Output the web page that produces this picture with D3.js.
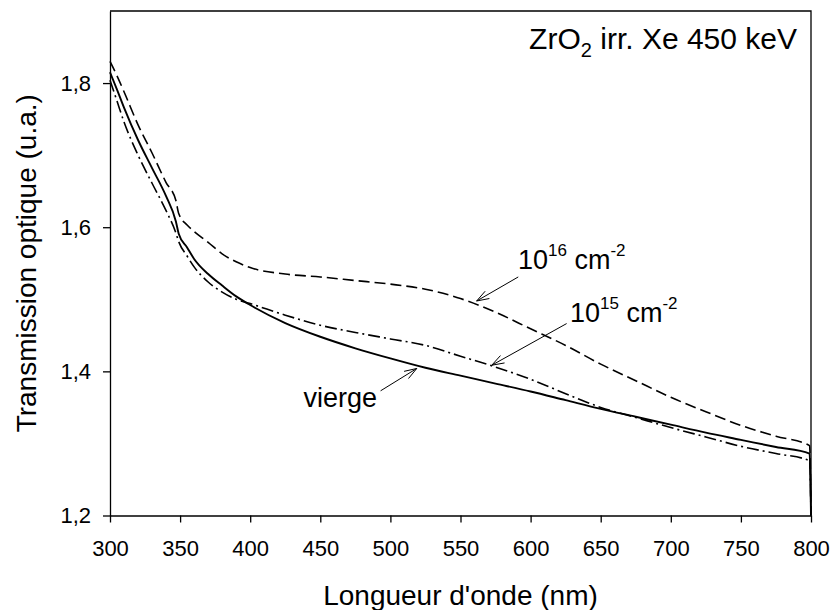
<!DOCTYPE html>
<html>
<head>
<meta charset="utf-8">
<script src="https://cdn.jsdelivr.net/npm/d3@7"></script>
<style>
  html, body { margin: 0; padding: 0; background: #fff; }
  svg { display: block; font-family: "Liberation Sans", Arial, sans-serif; }
</style>
</head>
<body>
<svg id="chart" width="832" height="610"></svg>
<script>
// ---- Data ----
const wavelengths = [300, 305, 310, 320, 330, 340, 347, 349, 355, 360, 370, 380, 390, 400,
  425, 450, 475, 500, 525, 550, 575, 600, 625, 650, 675, 700, 725, 750, 775, 799, 800];

const vierge = [1.815, 1.791, 1.766, 1.721, 1.682, 1.643, 1.608, 1.591, 1.572, 1.556, 1.535, 1.519, 1.504, 1.492,
  1.467, 1.448, 1.432, 1.418, 1.405, 1.394, 1.383, 1.372, 1.360, 1.348, 1.337, 1.326, 1.315, 1.305, 1.295, 1.286, 1.2];

const dose1e15 = [1.804, 1.775, 1.746, 1.700, 1.661, 1.623, 1.592, 1.580, 1.560, 1.545, 1.524, 1.510, 1.500, 1.494,
  1.478, 1.464, 1.454, 1.445, 1.436, 1.421, 1.406, 1.389, 1.369, 1.350, 1.336, 1.322, 1.309, 1.296, 1.286, 1.276, 1.2];

const dose1e16 = [1.830, 1.810, 1.788, 1.742, 1.703, 1.662, 1.637, 1.619, 1.603, 1.594, 1.579, 1.563, 1.552, 1.544,
  1.535, 1.531, 1.526, 1.521, 1.514, 1.501, 1.482, 1.459, 1.436, 1.410, 1.387, 1.364, 1.344, 1.325, 1.310, 1.297, 1.2];

const xTicks = [300, 350, 400, 450, 500, 550, 600, 650, 700, 750, 800];
const yTicks = [1.2, 1.4, 1.6, 1.8];
const yTickLabels = ["1,2", "1,4", "1,6", "1,8"];

const xDomain = [300, 800];
const yDomain = [1.2, 1.9];

const xTitle = "Longueur d'onde (nm)";
const yTitle = "Transmission optique (u.a.)";

// annotations: label pieces, text anchor point, arrow start, arrow tip (data units)
const annotations = [
  { base: "vierge", sup: null, unit: null, unitSup: null, anchor: "end",
    text: [490.4, 1.351], from: [493.0, 1.373], to: [518.8, 1.404] },
  { base: "10", sup: "16", unit: " cm", unitSup: "-2", anchor: "start",
    text: [591.0, 1.5425], from: [591.2, 1.531], to: [561.5, 1.4976] },
  { base: "10", sup: "15", unit: " cm", unitSup: "-2", anchor: "start",
    text: [628.1, 1.4685], from: [625.7, 1.4663], to: [572.3, 1.4085] }
];

(function () {
  const svg = d3.select("#chart");
  const W = 832, H = 610;
  const mLeft = 110, mRight = 811, mTop = 11, mBottom = 515.5;

  svg.append("rect").attr("width", W).attr("height", H).attr("fill", "#fff");

  const x = d3.scaleLinear().domain(xDomain).range([mLeft, mRight]);
  const y = d3.scaleLinear().domain(yDomain).range([mBottom, mTop]);

  // frame (top/right)
  svg.append("path")
    .attr("d", `M${mLeft},${mTop}H${mRight}V${mBottom}`)
    .attr("fill", "none").attr("stroke", "#000").attr("stroke-width", 1.3);

  const xAxis = d3.axisBottom(x).tickValues(xTicks).tickSize(7).tickSizeOuter(0).tickPadding(17.5)
    .tickFormat(d3.format("d"));
  const yAxis = d3.axisLeft(y).tickValues(yTicks).tickSize(7).tickSizeOuter(0).tickPadding(12)
    .tickFormat((d, i) => yTickLabels[i]);

  const gx = svg.append("g").attr("transform", `translate(0,${mBottom})`).call(xAxis);
  const gy = svg.append("g").attr("transform", `translate(${mLeft},0)`).call(yAxis);
  [gx, gy].forEach(g => {
    g.selectAll("path, line").attr("stroke", "#000").attr("stroke-width", 1.3);
    g.selectAll("text").attr("fill", "#000").style("font-size", "22px")
      .style("font-family", "'Liberation Sans', Arial, sans-serif");
  });

  svg.append("text")
    .attr("x", (mLeft + mRight) / 2).attr("y", 605)
    .attr("text-anchor", "middle").style("font-size", "28px").text(xTitle);
  svg.append("text")
    .attr("transform", `translate(36,${(mTop + mBottom) / 2}) rotate(-90)`)
    .attr("text-anchor", "middle").style("font-size", "28px").text(yTitle);

  const title = svg.append("text")
    .attr("x", 797).attr("y", 49).attr("text-anchor", "end").style("font-size", "30px");
  title.append("tspan").text("ZrO");
  title.append("tspan").attr("dy", 8).style("font-size", "20px").text("2");
  title.append("tspan").attr("dy", -8).text(" irr. Xe 450 keV");

  const series = [
    { values: vierge, dash: null, width: 1.9 },
    { values: dose1e15, dash: "12,4,2,4", width: 1.6 },
    { values: dose1e16, dash: "11,5", width: 1.6 }
  ];
  const line = d3.line().x(d => x(d[0])).y(d => y(d[1])).curve(d3.curveMonotoneX);

  series.forEach(s => {
    const pts = wavelengths.map((w, i) => [w, s.values[i]]);
    svg.append("path")
      .datum(pts)
      .attr("d", line)
      .attr("fill", "none")
      .attr("stroke", "#000")
      .attr("stroke-width", s.width)
      .attr("stroke-dasharray", s.dash);
  });

  annotations.forEach(a => {
    const t = svg.append("text")
      .attr("x", x(a.text[0])).attr("y", y(a.text[1]))
      .attr("text-anchor", a.anchor).style("font-size", "27px");
    t.append("tspan").text(a.base);
    if (a.sup) {
      t.append("tspan").attr("dy", -13).style("font-size", "17px").text(a.sup);
      t.append("tspan").attr("dy", 13).text(a.unit);
      t.append("tspan").attr("dy", -13).style("font-size", "17px").text(a.unitSup);
    }
    const x0 = x(a.from[0]), y0 = y(a.from[1]);
    const x1 = x(a.to[0]), y1 = y(a.to[1]);
    svg.append("line")
      .attr("x1", x0).attr("y1", y0).attr("x2", x1).attr("y2", y1)
      .attr("stroke", "#000").attr("stroke-width", 1);
    const ang = Math.atan2(y0 - y1, x0 - x1);
    const L = 13, spread = 0.33;
    [ang - spread, ang + spread].forEach(th => {
      svg.append("line")
        .attr("x1", x1).attr("y1", y1)
        .attr("x2", x1 + L * Math.cos(th)).attr("y2", y1 + L * Math.sin(th))
        .attr("stroke", "#000").attr("stroke-width", 1);
    });
  });
})();
</script>
</body>
</html>
